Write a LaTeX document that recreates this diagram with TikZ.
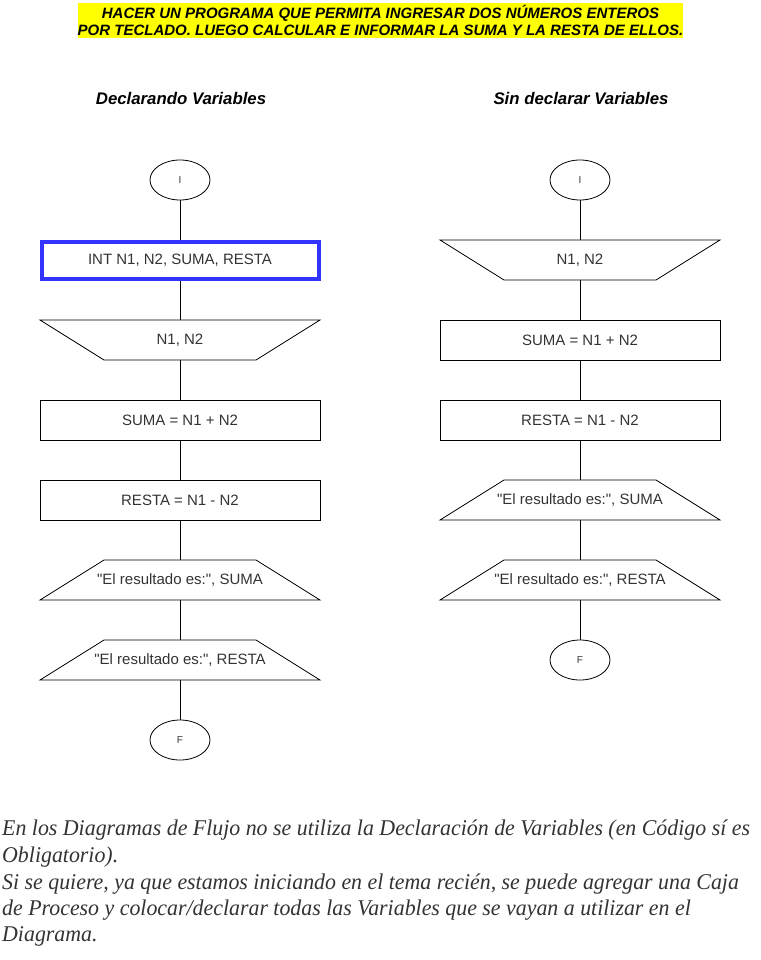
\documentclass[tikz,border=0pt]{standalone}
\usepackage{graphicx}
\usepackage{fontspec}
\setmainfont{Liberation Sans}[Ligatures=TeXOff]
\newfontfamily\serifit{Liberation Serif}[Ligatures=TeX]
\usetikzlibrary{shapes.geometric}
\definecolor{ttxt}{HTML}{333333}
\definecolor{tyellow}{HTML}{FFFF00}
\definecolor{tblue}{HTML}{3333FF}
\newcommand\notetext[1]{\scalebox{0.972}[1]{#1}}
\begin{document}
\begin{tikzpicture}[x=1pt,y=-1pt,
  lbl/.style={font=\fontsize{15}{17}\selectfont, text=ttxt},
  procbox/.style={draw, line width=0.8pt, minimum width=280pt, minimum height=40pt, inner sep=0pt, lbl},
  declbox/.style={draw=tblue, line width=4pt, minimum width=277pt, minimum height=37pt, inner sep=0pt, lbl},
  term/.style={draw, ellipse, line width=0.8pt, minimum width=60pt, minimum height=40pt, inner sep=0pt, font=\fontsize{10}{12}\selectfont, text=ttxt},
  conn/.style={line width=0.8pt},
  hdr/.style={font=\fontsize{16.8}{18}\selectfont\bfseries\itshape},
  note/.style={anchor=base west, inner sep=0pt, font=\serifit\itshape\fontsize{22.5}{26}\selectfont, text=ttxt}
]
\useasboundingbox (0,0) rectangle (760,960);
% title
\fill[tyellow] (78,3) rectangle (683,38);
\node[font=\fontsize{15}{17.5}\selectfont\bfseries\itshape, align=center, inner sep=0pt] (title) at (380.5,20.5)
  {HACER UN PROGRAMA QUE PERMITA INGRESAR DOS NÚMEROS ENTEROS\\POR TECLADO. LUEGO CALCULAR E INFORMAR LA SUMA Y LA RESTA DE ELLOS.};
\node[hdr] (h1) at (181,99) {Declarando Variables};
\node[hdr] (h2) at (581,99) {Sin declarar Variables};

% left column
\node[term] (li) at (180,180) {I};
\node[declbox] (ldecl) at (180,260.5) {INT N1, N2, SUMA, RESTA};
\draw[line width=0.8pt] (40,320) -- (320,320) -- (256,360) -- (104,360) -- cycle;
\node[lbl] (lin) at (180,340.5) {N1, N2};
\coordinate (linT) at (180,320); \coordinate (linB) at (180,360);
\node[procbox] (lsuma) at (180,420) {SUMA = N1 + N2};
\node[procbox] (lresta) at (180,500) {RESTA = N1 - N2};
\draw[line width=0.8pt] (104,560) -- (256,560) -- (320,600) -- (40,600) -- cycle;
\node[lbl] (lo1) at (180,580.5) {"El resultado es:", SUMA};
\coordinate (lo1T) at (180,560); \coordinate (lo1B) at (180,600);
\draw[line width=0.8pt] (104,640) -- (256,640) -- (320,680) -- (40,680) -- cycle;
\node[lbl] (lo2) at (180,660.5) {"El resultado es:", RESTA};
\coordinate (lo2T) at (180,640); \coordinate (lo2B) at (180,680);
\node[term] (lf) at (180,740) {F};
\draw[conn] (li) -- (ldecl);
\draw[conn] (ldecl) -- (linT);
\draw[conn] (linB) -- (lsuma);
\draw[conn] (lsuma) -- (lresta);
\draw[conn] (lresta) -- (lo1T);
\draw[conn] (lo1B) -- (lo2T);
\draw[conn] (lo2B) -- (lf);

% right column
\node[term] (ri) at (580,180) {I};
\draw[line width=0.8pt] (440,240) -- (720,240) -- (656,280) -- (504,280) -- cycle;
\node[lbl] (rin) at (580,260.5) {N1, N2};
\coordinate (rinT) at (580,240); \coordinate (rinB) at (580,280);
\node[procbox] (rsuma) at (580,340) {SUMA = N1 + N2};
\node[procbox] (rresta) at (580,420) {RESTA = N1 - N2};
\draw[line width=0.8pt] (504,480) -- (656,480) -- (720,520) -- (440,520) -- cycle;
\node[lbl] (ro1) at (580,500.5) {"El resultado es:", SUMA};
\coordinate (ro1T) at (580,480); \coordinate (ro1B) at (580,520);
\draw[line width=0.8pt] (504,560) -- (656,560) -- (720,600) -- (440,600) -- cycle;
\node[lbl] (ro2) at (580,580.5) {"El resultado es:", RESTA};
\coordinate (ro2T) at (580,560); \coordinate (ro2B) at (580,600);
\node[term] (rf) at (580,660) {F};
\draw[conn] (ri) -- (rinT);
\draw[conn] (rinB) -- (rsuma);
\draw[conn] (rsuma) -- (rresta);
\draw[conn] (rresta) -- (ro1T);
\draw[conn] (ro1B) -- (ro2T);
\draw[conn] (ro2B) -- (rf);

% note
\node[note] (n1) at (2,835) {\notetext{En los Diagramas de Flujo no se utiliza la Declaración de Variables (en Código sí es}};
\node[note] (n2) at (2,862) {\notetext{Obligatorio).}};
\node[note] (n3) at (2,889) {\notetext{Si se quiere, ya que estamos iniciando en el tema recién, se puede agregar una Caja}};
\node[note] (n4) at (2,915) {\notetext{de Proceso y colocar/declarar todas las Variables que se vayan a utilizar en el}};
\node[note] (n5) at (2,941) {\notetext{Diagrama.}};
\end{tikzpicture}
\end{document}
